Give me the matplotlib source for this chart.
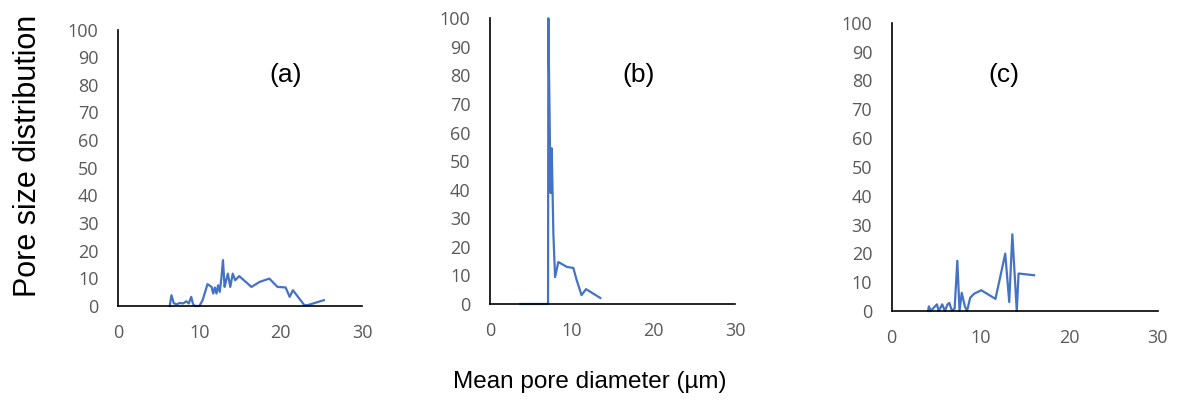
import numpy as np
import matplotlib
matplotlib.use('Agg')
import matplotlib.pyplot as plt

# panel (a)
x_a = [6.36, 6.57, 6.85, 7.2, 7.6, 8.0, 8.4, 8.7, 9.0, 9.2, 9.4, 10.0, 10.4, 11.0, 11.5,
       11.7, 11.9, 12.1, 12.3, 12.5, 12.7, 12.9, 13.1, 13.3, 13.5, 13.8, 14.1, 14.4, 14.9,
       16.4, 17.4, 18.6, 19.6, 20.6, 21.1, 21.5, 22.9, 23.3, 25.3]
y_a = [0.0, 3.9, 1.0, 0.6, 1.1, 0.9, 1.7, 0.9, 3.3, 0.9, 0.0, 0.0, 2.1, 7.9, 6.9,
       4.5, 6.7, 4.5, 7.5, 5.1, 9.9, 16.6, 6.9, 9.3, 11.7, 6.9, 11.7, 9.3, 10.8,
       6.9, 8.7, 9.9, 6.9, 6.7, 3.3, 5.7, 0.3, 0.3, 2.1]

# panel (b)
x_b = [3.7, 7.1, 7.14, 7.34, 7.43, 7.55, 7.75, 7.96, 8.36, 9.39, 10.2, 10.6, 11.2, 11.75, 13.5]
y_b = [0.0, 0.0, 100.0, 54.0, 38.8, 54.5, 24.8, 9.4, 14.7, 13.0, 12.6, 8.4, 3.1, 5.2, 2.1]

# panel (c)
x_c = [4.1, 4.2, 4.4, 5.1, 5.3, 5.7, 6.0, 6.3, 6.5, 6.8, 7.1, 7.4, 7.65, 7.9, 8.25,
       8.5, 8.85, 9.3, 10.1, 11.7, 12.8, 13.25, 13.6, 14.1, 14.3, 16.05]
y_c = [0.0, 1.6, 0.0, 2.3, 0.0, 2.3, 0.0, 2.3, 2.8, 0.0, 0.9, 17.4, 0.0, 6.3, 1.6,
       0.0, 4.6, 6.0, 7.2, 4.2, 19.9, 3.1, 26.6, 0.0, 13.0, 12.4]

panels = [
    ('(a)', x_a, y_a, [0.0995, 0.2482, 0.2058, 0.6793]),
    ('(b)', x_b, y_b, [0.4132, 0.2531, 0.2066, 0.7020]),
    ('(c)', x_c, y_c, [0.7518, 0.2359, 0.2245, 0.7083]),
]
label_pos = [(0.685, 0.837), (0.605, 0.80), (0.42, 0.82)]

fig = plt.figure(figsize=(11.86, 4.07), dpi=100)

for (name, xs, ys, rect), (lx, ly) in zip(panels, label_pos):
    ax = fig.add_axes(rect)
    ax.plot(xs, ys, color='#4472C4', linewidth=1.6, clip_on=False)
    ax.set_xlim(0, 30)
    ax.set_ylim(0, 100)
    ax.set_xticks([0, 10, 20, 30])
    ax.set_yticks(np.arange(0, 101, 10))
    ax.spines['top'].set_visible(False)
    ax.spines['right'].set_visible(False)
    ax.spines['left'].set_color('black')
    ax.spines['bottom'].set_color('black')
    ax.spines['left'].set_linewidth(1.2)
    ax.spines['bottom'].set_linewidth(1.2)
    ax.tick_params(length=0, labelsize=13, labelcolor='#595959')
    ax.tick_params(axis='x', pad=13)
    ax.tick_params(axis='y', pad=14)
    for lab in ax.get_xticklabels() + ax.get_yticklabels():
        lab.set_family('Open Sans')
    ax.text(lx, ly, name, transform=ax.transAxes, ha='center', va='center',
            fontsize=19, family='Liberation Sans')

fig.text(0.024, 0.617, 'Pore size distribution', rotation=90, ha='center', va='center',
         fontsize=22, family='Liberation Sans')
fig.text(0.497, 0.062, 'Mean pore diameter (\u00b5m)', ha='center', va='center',
         fontsize=17.5, family='Liberation Sans')

fig.savefig('out.png', dpi=100)
